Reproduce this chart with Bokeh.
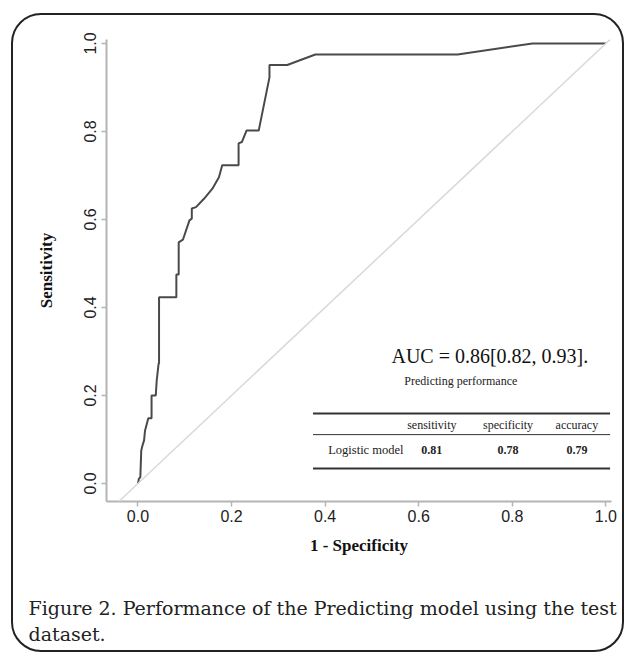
from bokeh.plotting import figure
from bokeh.models import Range1d, Slope, Title, FixedTicker, NumeralTickFormatter
from bokeh.core.properties import value
from bokeh.embed import file_html
from bokeh.resources import INLINE

# ---- data ----
fpr = [0.000, 0.002, 0.005, 0.007, 0.009, 0.013, 0.015, 0.022, 0.029, 0.029,
       0.038, 0.040, 0.044, 0.045, 0.045, 0.082, 0.082, 0.087, 0.087, 0.096,
       0.110, 0.115, 0.115, 0.124, 0.141, 0.159, 0.173, 0.180, 0.215, 0.215,
       0.222, 0.232, 0.258, 0.281, 0.281, 0.319, 0.379, 0.683, 0.843, 1.000]
tpr = [0.000, 0.011, 0.014, 0.075, 0.084, 0.098, 0.120, 0.148, 0.148, 0.200,
       0.200, 0.234, 0.272, 0.273, 0.423, 0.423, 0.475, 0.475, 0.548, 0.554,
       0.598, 0.602, 0.625, 0.628, 0.647, 0.670, 0.696, 0.723, 0.723, 0.773,
       0.776, 0.802, 0.802, 0.923, 0.951, 0.951, 0.975, 0.975, 1.000, 1.000]
ticks = [0.0, 0.2, 0.4, 0.6, 0.8, 1.0]
x_label = "1 - Specificity"
y_label = "Sensitivity"
auc_text = "AUC = 0.86[0.82, 0.93]."
table_title = "Predicting performance"
metric_names = ["sensitivity", "specificity", "accuracy"]
model_name = "Logistic model"
metric_values = [0.81, 0.78, 0.79]
caption_lines = ["Figure 2. Performance of the Predicting model using the test",
                 "dataset."]

# ---- table layout (data coordinates of the inset) ----
auc_pos = (0.752, 0.289)
title_pos = (0.690, 0.232)
col_x = [0.628, 0.791, 0.938]
model_x = 0.487
header_y = 0.132
row_y = 0.077
rule_x0, rule_x1 = 0.374, 1.009
rule_y = [0.159, 0.111, 0.034]
rule_w = [2, 1, 2]

p = figure(width=613, height=639, output_backend="svg", toolbar_location=None,
           x_range=Range1d(-0.0673, 1.012), y_range=Range1d(-0.041, 1.009),
           min_border_left=93, min_border_right=15, min_border_top=24,
           min_border_bottom=153)
p.margin = (13, 0, 0, 11)
p.styles = {"border": "2.5px solid #222222", "border-radius": "30px"}
p.outline_line_color = None
p.grid.visible = False
p.background_fill_color = None
p.border_fill_color = None

for ax in (p.xaxis[0], p.yaxis[0]):
    ax.ticker = FixedTicker(ticks=ticks)
    ax.formatter = NumeralTickFormatter(format="0.0")
    ax.axis_line_color = "#b4b4b4"
    ax.axis_line_width = 2
    ax.major_tick_line_color = "#b4b4b4"
    ax.major_tick_line_width = 1.5
    ax.major_tick_out = 5
    ax.major_tick_in = 0
    ax.minor_tick_line_color = None
    ax.major_label_text_font = "Liberation Sans"
    ax.major_label_text_font_size = "16px"
    ax.major_label_text_color = "#222222"
    ax.axis_label_text_font = "Liberation Serif"
    ax.axis_label_text_font_style = "bold"
    ax.axis_label_text_font_size = "17px"
    ax.axis_label_text_color = "#111111"

p.xaxis.axis_label = x_label
p.yaxis.axis_label = y_label
p.yaxis.major_label_orientation = "vertical"
p.yaxis.major_label_standoff = 5
p.yaxis.axis_label_standoff = 26
p.xaxis.major_label_standoff = 3
p.xaxis.axis_label_standoff = 11

p.add_layout(Slope(gradient=1, y_intercept=0, line_color="#d9d9d9", line_width=1.5))
p.line(fpr, tpr, line_color="#4a4a4a", line_width=2)

serif = value("Liberation Serif")
p.text(x=[auc_pos[0]], y=[auc_pos[1]], text=[auc_text], text_font=serif,
       text_font_size="20px", text_align="center", text_baseline="middle",
       text_color="#111111")
p.text(x=[title_pos[0]], y=[title_pos[1]], text=[table_title], text_font=serif,
       text_font_size="12px", text_align="center", text_baseline="middle",
       text_color="#222222")
p.text(x=col_x, y=[header_y] * 3, text=metric_names, text_font=serif,
       text_font_size="12px", text_align="center", text_baseline="middle",
       text_color="#222222")
p.text(x=[model_x], y=[row_y], text=[model_name], text_font=serif,
       text_font_size="12.5px", text_align="center", text_baseline="middle",
       text_color="#222222")
p.text(x=col_x, y=[row_y] * 3, text=[f"{v:.2f}" for v in metric_values],
       text_font=serif, text_font_size="12px", text_font_style="bold",
       text_align="center", text_baseline="middle", text_color="#222222")
p.segment(x0=[rule_x0] * 3, x1=[rule_x1] * 3, y0=rule_y, y1=rule_y,
          line_color="#333333", line_width=rule_w)

# spacer between the axis title and the caption
p.add_layout(Title(text=" ", text_font_size="10px", standoff=23), "below")
p.add_layout(Title(text="\n".join(caption_lines), align="left", offset=-78,
                   standoff=4, text_font="DejaVu Serif", text_font_size="19px",
                   text_font_style="normal", text_color="#222222",
                   text_line_height=1.2), "below")

open("out.html", "w").write(file_html(p, INLINE))
